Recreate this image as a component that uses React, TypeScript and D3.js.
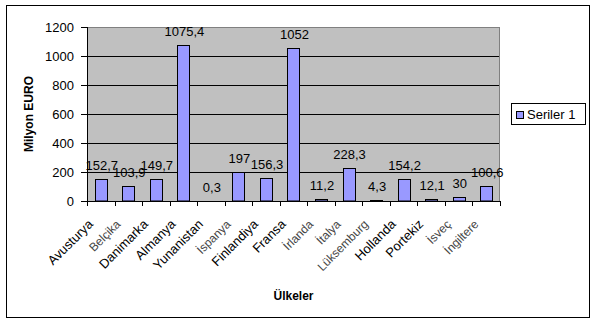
import React from "react";
import * as d3 from "d3";

const categories = [
  "Avusturya", "Belçika", "Danimarka", "Almanya", "Yunanistan", "İspanya",
  "Finlandiya", "Fransa", "İrlanda", "İtalya", "Lüksemburg", "Hollanda",
  "Portekiz", "İsveç", "İngiltere",
];
const values = [152.7, 103.9, 149.7, 1075.4, 0.3, 197, 156.3, 1052, 11.2, 228.3, 4.3, 154.2, 12.1, 30, 100.6];
const valueLabels = ["152,7", "103,9", "149,7", "1075,4", "0,3", "197", "156,3", "1052", "11,2", "228,3", "4,3", "154,2", "12,1", "30", "100,6"];
const thinLabels = ["Belçika", "İspanya", "İrlanda", "İtalya", "Lüksemburg", "İsveç", "İngiltere"];
const yTicks = [0, 200, 400, 600, 800, 1000, 1200];
const seriesName = "Seriler 1";

const W = 595, H = 323;
const plot = { left: 87, right: 500, top: 27, bottom: 201 };
const FONT = "'Liberation Sans', Arial, sans-serif";

export default function App() {
  const x = d3.scaleBand<string>().domain(categories).range([plot.left, plot.right]).paddingInner(0).paddingOuter(0);
  const y = d3.scaleLinear().domain([0, 1200]).range([plot.bottom, plot.top]);
  const bw = x.bandwidth();
  const barW = bw * 0.44;
  const boundaries = d3.range(categories.length + 1).map((i) => plot.left + i * bw);

  return (
    <svg width={W} height={H} style={{ position: "absolute", left: 0, top: 0, background: "#fff" }} fontFamily={FONT}>
      <rect x={0} y={0} width={W} height={H} fill="#fff" />
      <rect x={6.5} y={5.5} width={583} height={312} fill="#fff" stroke="#000" strokeWidth={1} />
      {/* plot area */}
      <rect x={plot.left} y={plot.top} width={plot.right - plot.left} height={plot.bottom - plot.top} fill="#C0C0C0" />
      {yTicks.filter((t) => t > 0 && t < 1200).map((t) => (
        <line key={"g" + t} x1={plot.left} x2={plot.right} y1={Math.round(y(t)) + 0.5} y2={Math.round(y(t)) + 0.5} stroke="#000" />
      ))}
      <line x1={plot.left} x2={plot.right} y1={plot.top + 0.5} y2={plot.top + 0.5} stroke="#808080" />
      <line x1={plot.right - 0.5} x2={plot.right - 0.5} y1={plot.top} y2={plot.bottom} stroke="#808080" />
      {/* bars */}
      {categories.map((c, i) => {
        const cx = (x(c) as number) + bw / 2;
        const top = y(values[i]);
        return (
          <rect key={"b" + c} x={Math.round(cx - barW / 2) + 0.5} y={Math.round(top) + 0.5}
            width={Math.round(barW)} height={Math.max(0, plot.bottom - Math.round(top) - 0.5)}
            fill="#9999FF" stroke="#000" strokeWidth={1} />
        );
      })}
      {/* axes */}
      <line x1={plot.left + 0.5} x2={plot.left + 0.5} y1={plot.top} y2={plot.bottom + 0.5} stroke="#000" />
      <line x1={plot.left} x2={plot.right} y1={plot.bottom + 0.5} y2={plot.bottom + 0.5} stroke="#000" />
      {yTicks.map((t) => (
        <g key={"yt" + t}>
          <line x1={plot.left - 6} x2={plot.left} y1={Math.round(y(t)) + 0.5} y2={Math.round(y(t)) + 0.5} stroke="#000" />
          <text x={plot.left - 13} y={y(t) + 4.5} textAnchor="end" fontSize={13} fill="#000">{t}</text>
        </g>
      ))}
      {boundaries.map((bx, i) => (
        <line key={"xt" + i} x1={Math.round(bx) + 0.5} x2={Math.round(bx) + 0.5} y1={plot.bottom} y2={plot.bottom + 5} stroke="#000" />
      ))}
      {/* value labels */}
      {categories.map((c, i) => (
        <text key={"v" + c} x={(x(c) as number) + bw / 2 + 1} y={y(values[i]) - 9} textAnchor="middle" fontSize={13} fill="#000">
          {valueLabels[i]}
        </text>
      ))}
      {/* category labels */}
      {categories.map((c) => {
        const cx = (x(c) as number) + bw / 2;
        const thin = thinLabels.includes(c);
        return (
          <text key={"c" + c} transform={`translate(${cx - 7},${plot.bottom + 24}) rotate(-45)`} textAnchor="end"
            fontSize={thin ? 12 : 13} fill={thin ? "#444" : "#000"}>
            {c}
          </text>
        );
      })}
      {/* axis titles */}
      <text transform={`translate(32.5,${(plot.top + plot.bottom) / 2}) rotate(-90)`} textAnchor="middle" fontSize={12} fontWeight="bold" fill="#000">Milyon EURO</text>
      <text x={(plot.left + plot.right) / 2} y={300} textAnchor="middle" fontSize={12} fontWeight="bold" fill="#000">Ülkeler</text>
      {/* legend */}
      <rect x={511.5} y={103.5} width={74} height={21} fill="#fff" stroke="#000" />
      <rect x={516.5} y={111.5} width={7} height={7} fill="#9999FF" stroke="#000" />
      <text x={527} y={119} fontSize={13} fill="#000">{seriesName}</text>
    </svg>
  );
}
